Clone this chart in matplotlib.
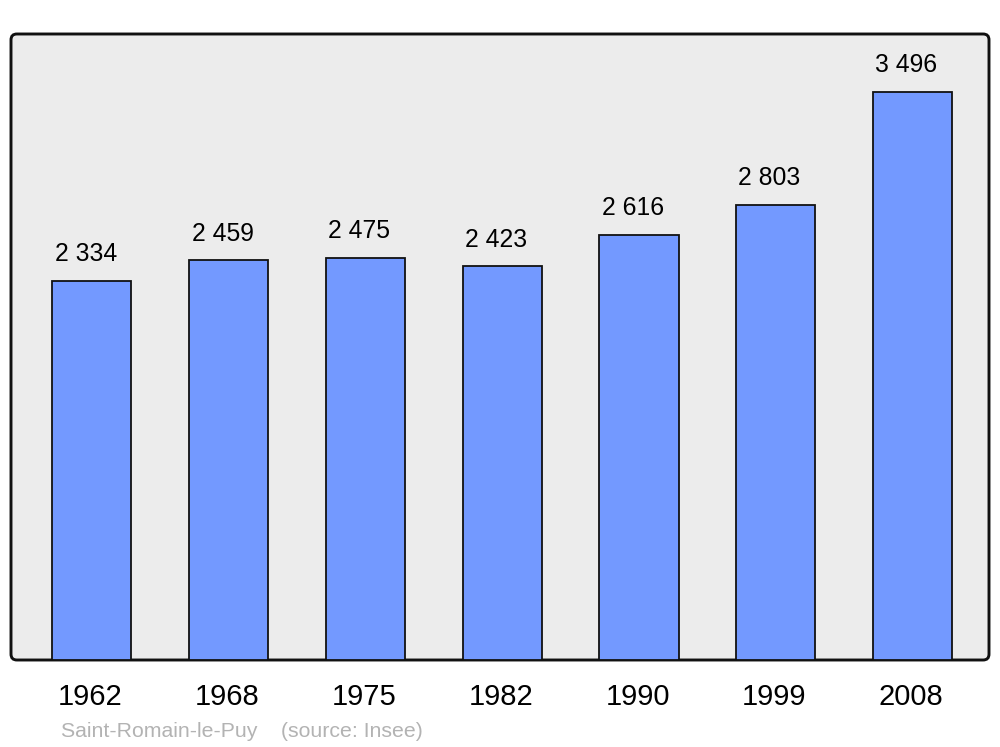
import matplotlib
matplotlib.use("Agg")
import matplotlib.pyplot as plt
from matplotlib.patches import FancyBboxPatch

years = ["1962", "1968", "1975", "1982", "1990", "1999", "2008"]
population = [2334, 2459, 2475, 2423, 2616, 2803, 3496]
value_labels = ["2 334", "2 459", "2 475", "2 423", "2 616", "2 803", "3 496"]

plt.rcParams['font.family'] = ['Liberation Sans', 'DejaVu Sans']

fig = plt.figure(figsize=(10, 7.47), dpi=100)
ax = fig.add_axes([11/1000, 87/747, 978/1000, 626/747])
ax.set_facecolor('none')
for s in ax.spines.values():
    s.set_visible(False)

frame = FancyBboxPatch((0, 0), 1, 1, boxstyle="round,pad=0,rounding_size=0.006",
                       transform=ax.transAxes, facecolor='#ececec', edgecolor='#111111',
                       linewidth=2.1, zorder=0, clip_on=False, mutation_aspect=978/626)
ax.add_patch(frame)

x = list(range(len(years)))
bars = ax.bar(x, population, width=0.578, color='#7399ff', edgecolor='#111111',
              linewidth=1.3, zorder=2)
ax.set_xlim(-0.592, 6.559)
ax.set_ylim(0, 3853)
ax.set_xticks([])
ax.set_yticks([])

for xi, v, lab in zip(x, population, value_labels):
    ax.annotate(lab, (xi, v), xytext=(-4.5, 14.2), textcoords='offset points',
                ha='center', va='baseline', fontsize=17.8, color='black')

for xi, yr in zip(x, years):
    ax.annotate(yr, (xi, 0), xycoords=('data', 'axes fraction'), xytext=(-1, -32.4),
                textcoords='offset points', ha='center', va='baseline',
                fontsize=21, color='black', annotation_clip=False)

fig.text(61/1000, 10/747, "Saint-Romain-le-Puy    (source: Insee)", ha='left', va='baseline',
         fontsize=15.3, color='#b3b3b3')

fig.savefig('out.png', dpi=100, facecolor='white')
